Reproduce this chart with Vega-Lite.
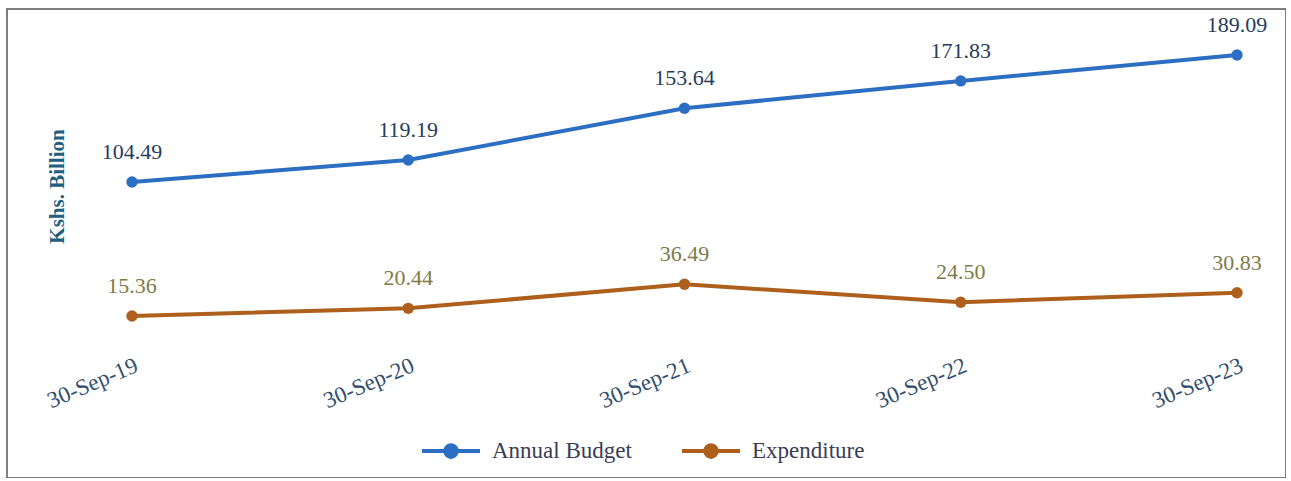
{
  "$schema": "https://vega.github.io/schema/vega-lite/v6.json",
  "width": 1279,
  "height": 469,
  "autosize": {"type": "none"},
  "padding": {"left": 7, "top": 9, "right": 0, "bottom": 0},
  "background": "white",
  "config": {
    "view": {"stroke": "#555555", "strokeWidth": 1.5},
    "font": "Liberation Serif"
  },
  "data": {
    "values": [
      {"date": "30-Sep-19", "series": "Annual Budget", "value": 104.49},
      {"date": "30-Sep-20", "series": "Annual Budget", "value": 119.19},
      {"date": "30-Sep-21", "series": "Annual Budget", "value": 153.64},
      {"date": "30-Sep-22", "series": "Annual Budget", "value": 171.83},
      {"date": "30-Sep-23", "series": "Annual Budget", "value": 189.09},
      {"date": "30-Sep-19", "series": "Expenditure", "value": 15.36},
      {"date": "30-Sep-20", "series": "Expenditure", "value": 20.44},
      {"date": "30-Sep-21", "series": "Expenditure", "value": 36.49},
      {"date": "30-Sep-22", "series": "Expenditure", "value": 24.50},
      {"date": "30-Sep-23", "series": "Expenditure", "value": 30.83}
    ]
  },
  "encoding": {
    "x": {
      "field": "date",
      "type": "ordinal",
      "sort": null,
      "scale": {"type": "point", "range": [125, 1230], "padding": 0},
      "axis": {
        "title": null,
        "orient": "bottom",
        "offset": -130,
        "domain": false,
        "ticks": false,
        "grid": false,
        "labelAngle": -23,
        "labelAlign": "right",
        "labelBaseline": "top",
        "labelPadding": 6,
        "labelFontSize": 23,
        "labelFont": "Liberation Serif",
        "labelColor": "#34506e"
      }
    },
    "y": {
      "field": "value",
      "type": "quantitative",
      "scale": {"domain": [-92.5, 219.7], "nice": false, "zero": false},
      "axis": {
        "title": "Kshs. Billion",
        "labels": false,
        "ticks": false,
        "domain": false,
        "grid": false,
        "titleX": 50,
        "titleY": 177,
        "titleAngle": 270,
        "titleAlign": "center",
        "titleBaseline": "middle",
        "titleFont": "Liberation Serif",
        "titleFontSize": 21,
        "titleFontWeight": "bold",
        "titleColor": "#1f5f80"
      }
    }
  },
  "layer": [
    {
      "mark": {"type": "line", "strokeWidth": 4},
      "encoding": {
        "color": {
          "field": "series",
          "type": "nominal",
          "scale": {"domain": ["Annual Budget", "Expenditure"], "range": ["#2c6fc2", "#ae5f1c"]},
          "legend": {
            "title": null,
            "orient": "none",
            "legendX": 413,
            "legendY": 411,
            "direction": "horizontal",
            "symbolType": "M-1,0H1M-0.2,0A0.2,0.2 0 1,1 0.2,0A0.2,0.2 0 1,1 -0.2,0Z",
            "symbolSize": 3364,
            "symbolStrokeWidth": 4,
            "labelFont": "Liberation Serif",
            "labelFontSize": 23,
            "labelColor": "#3a3d55",
            "labelOffset": 10,
            "columnPadding": 42,
            "encode": {
              "symbols": {"update": {"fill": {"scale": "color", "field": "value"}}}
            }
          }
        }
      }
    },
    {
      "mark": {"type": "point", "filled": true, "size": 130, "opacity": 1},
      "encoding": {
        "color": {"field": "series", "type": "nominal", "legend": null}
      }
    },
    {
      "mark": {"type": "text", "dy": -23, "baseline": "alphabetic", "fontSize": 22, "font": "Liberation Serif"},
      "encoding": {
        "text": {"field": "value", "type": "quantitative", "format": ".2f"},
        "color": {
          "condition": {"test": "datum.series === 'Annual Budget'", "value": "#263c5c"},
          "value": "#7f7b48"
        }
      }
    }
  ]
}
